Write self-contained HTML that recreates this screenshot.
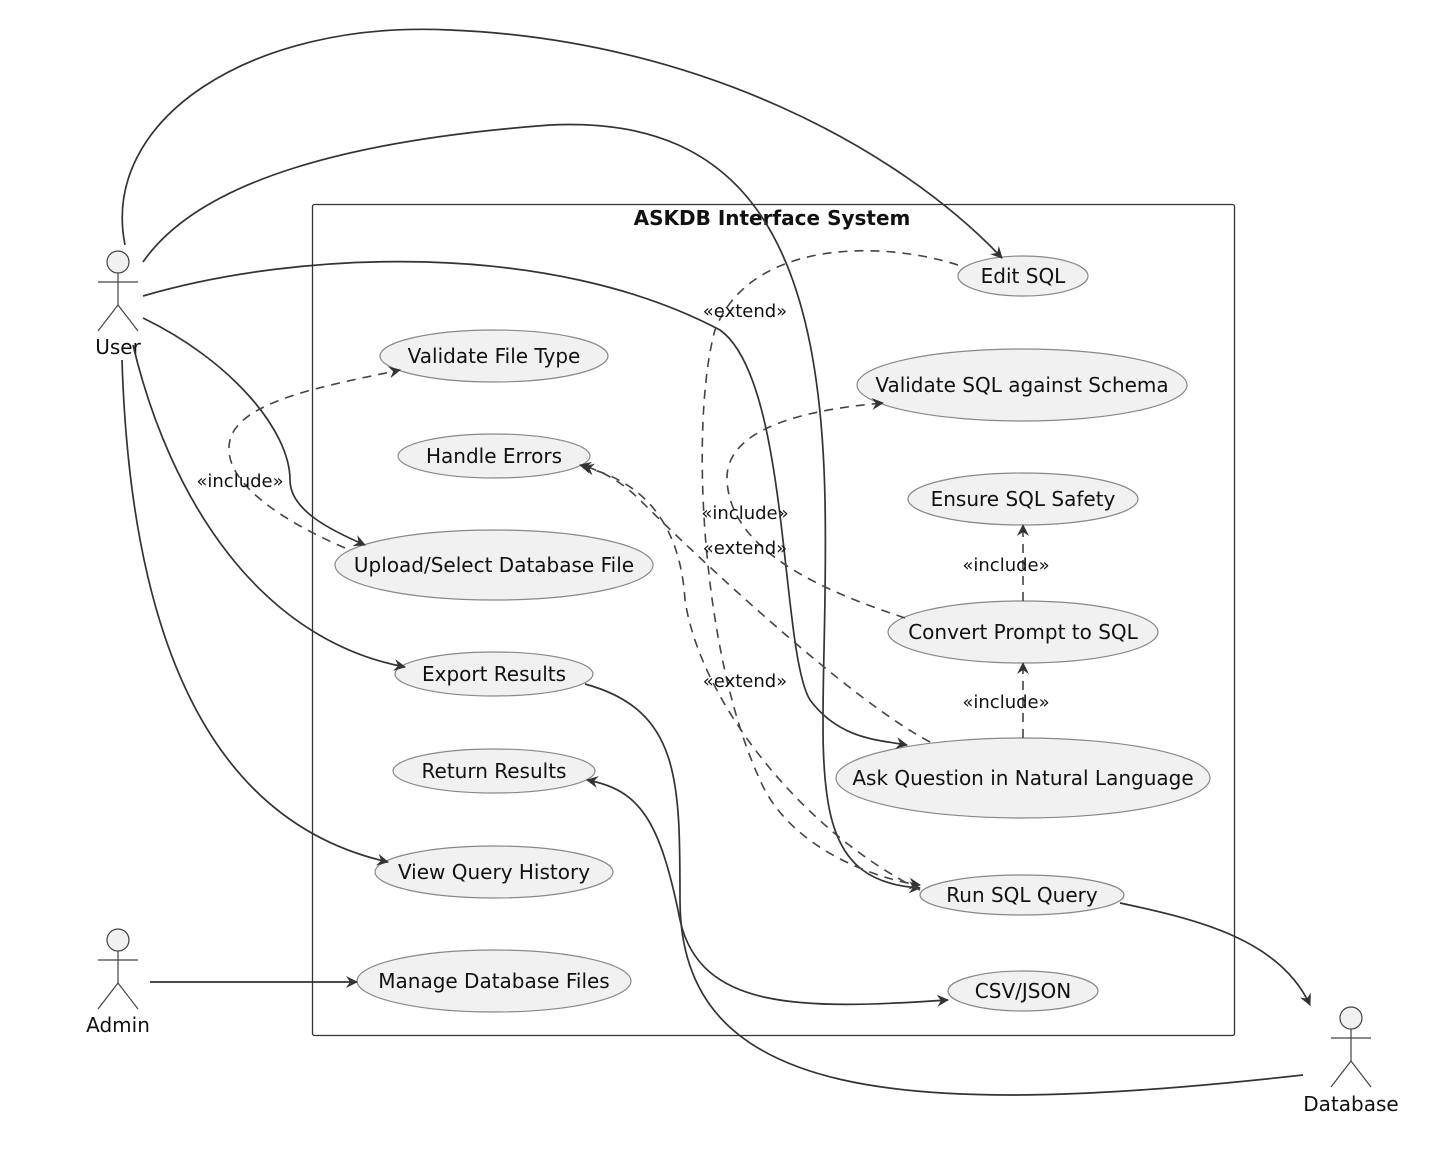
<!DOCTYPE html>
<html><head><meta charset="utf-8"><style>
html,body{margin:0;padding:0;background:#fff}
svg{display:block}
text{font-family:"DejaVu Sans","Liberation Sans",sans-serif;fill:#111}
.e{fill:#f1f1f1;stroke:#888;stroke-width:1.2}
.l{fill:none;stroke:#333;stroke-width:1.7}
.d{fill:none;stroke:#444;stroke-width:1.6;stroke-dasharray:9,7}
.a{fill:none;stroke:#444;stroke-width:1.2}
</style></head><body>
<svg width="1430" height="1174" viewBox="0 0 1430 1174" xmlns="http://www.w3.org/2000/svg">
<defs>
<marker id="ar" markerWidth="14" markerHeight="14" refX="11" refY="6" orient="auto" markerUnits="userSpaceOnUse">
<path d="M0,0 L12,6 L0,12 L4,6 Z" fill="#333"/></marker>
<marker id="ars" markerWidth="14" markerHeight="14" refX="1" refY="6" orient="auto" markerUnits="userSpaceOnUse">
<path d="M12,0 L0,6 L12,12 L8,6 Z" fill="#333"/></marker>
</defs>
<rect x="312.5" y="204.5" width="922" height="831" fill="none" stroke="#333" stroke-width="1.3" rx="2"/>
<text x="772" y="225" text-anchor="middle" font-weight="bold" font-size="20">ASKDB Interface System</text>

<!-- ellipses -->
<ellipse class="e" cx="1023" cy="276" rx="65" ry="20"/>
<ellipse class="e" cx="1022" cy="385" rx="165" ry="36"/>
<ellipse class="e" cx="1023" cy="499" rx="115" ry="26"/>
<ellipse class="e" cx="1023" cy="632" rx="135" ry="31"/>
<ellipse class="e" cx="1023" cy="778" rx="187" ry="40"/>
<ellipse class="e" cx="1022" cy="895" rx="102" ry="20"/>
<ellipse class="e" cx="1023" cy="991" rx="75" ry="20"/>
<ellipse class="e" cx="494" cy="356" rx="114" ry="26"/>
<ellipse class="e" cx="494" cy="456" rx="96" ry="22"/>
<ellipse class="e" cx="494" cy="565" rx="159" ry="35"/>
<ellipse class="e" cx="494" cy="674" rx="99" ry="22"/>
<ellipse class="e" cx="494" cy="771" rx="101" ry="22"/>
<ellipse class="e" cx="494" cy="872" rx="119" ry="26"/>
<ellipse class="e" cx="494" cy="981" rx="137" ry="31"/>

<g font-size="20" text-anchor="middle">
<text x="1023" y="283">Edit SQL</text>
<text x="1022" y="392">Validate SQL against Schema</text>
<text x="1023" y="506">Ensure SQL Safety</text>
<text x="1023" y="639">Convert Prompt to SQL</text>
<text x="1023" y="785">Ask Question in Natural Language</text>
<text x="1022" y="902">Run SQL Query</text>
<text x="1023" y="998">CSV/JSON</text>
<text x="494" y="363">Validate File Type</text>
<text x="494" y="463">Handle Errors</text>
<text x="494" y="572">Upload/Select Database File</text>
<text x="494" y="681">Export Results</text>
<text x="494" y="778">Return Results</text>
<text x="494" y="879">View Query History</text>
<text x="494" y="988">Manage Database Files</text>
</g>

<!-- actors -->
<g class="a">
<circle cx="118" cy="262" r="11" fill="#f1f1f1"/><path d="M118,273 V305 M98,282 H138 M118,305 L98,331 M118,305 L138,331"/>
<circle cx="118" cy="940" r="11" fill="#f1f1f1"/><path d="M118,951 V983 M98,960 H138 M118,983 L98,1009 M118,983 L138,1009"/>
<circle cx="1351" cy="1018" r="11" fill="#f1f1f1"/><path d="M1351,1029 V1061 M1331,1038 H1371 M1351,1061 L1331,1087 M1351,1061 L1371,1087"/>
</g>
<g font-size="20" text-anchor="middle">
<text x="118" y="354">User</text>
<text x="118" y="1032">Admin</text>
<text x="1351" y="1111">Database</text>
</g>

<!-- solid associations -->
<path class="l" marker-end="url(#ar)" d="M125,245 C100,120 250,20 450,30 C700,40 900,150 1002,258"/>
<path class="l" marker-end="url(#ar)" d="M143,262 C200,180 350,140 550,125 C750,115 820,250 825,500 C830,750 790,880 920,888"/>
<path class="l" marker-end="url(#ar)" d="M143,296 C300,250 550,240 720,330 C790,380 780,650 810,700 C840,740 880,740 907,745"/>
<path class="l" marker-end="url(#ar)" d="M143,318 C230,360 290,430 290,480 C290,510 330,530 365,545"/>
<path class="l" marker-end="url(#ar)" d="M133,345 C170,500 260,640 405,667"/>
<path class="l" marker-end="url(#ar)" d="M122,360 C130,620 200,820 388,862"/>
<path class="l" marker-end="url(#ar)" d="M150,982 L357,982"/>
<path class="l" marker-end="url(#ar)" d="M1120,903 C1200,920 1280,940 1310,1005"/>
<path class="l" d="M585,684 C680,710 680,780 680,900 C680,1100 900,1120 1303,1075"/>
<path class="l" marker-end="url(#ar)" marker-start="url(#ars)" d="M587,780 C640,790 660,820 680,920 C700,1010 800,1010 948,1000"/>

<!-- dashed -->
<path class="d" marker-end="url(#ar)" d="M345,548 C280,520 220,480 230,440 C240,400 330,385 400,370"/>
<path class="d" marker-end="url(#ar)" d="M958,265 C880,240 750,240 715,330 C690,420 700,650 760,780 C790,850 880,880 920,885"/>
<path class="d" marker-end="url(#ar)" d="M905,618 C820,590 730,550 727,480 C725,430 800,410 883,403"/>
<path class="d" marker-end="url(#ar)" d="M930,742 C850,700 700,560 640,500 C620,480 600,470 580,465"/>
<path class="d" marker-end="url(#ar)" d="M920,890 C800,830 700,700 685,600 C680,520 640,480 583,467"/>
<path class="d" marker-end="url(#ar)" d="M1023,738 L1023,663"/>
<path class="d" marker-end="url(#ar)" d="M1023,601 L1023,525"/>

<g font-size="18" text-anchor="middle">
<text x="240" y="487">«include»</text>
<text x="745" y="317">«extend»</text>
<text x="745" y="519">«include»</text>
<text x="745" y="554">«extend»</text>
<text x="745" y="687">«extend»</text>
<text x="1006" y="708">«include»</text>
<text x="1006" y="571">«include»</text>
</g>
</svg>
</body></html>
